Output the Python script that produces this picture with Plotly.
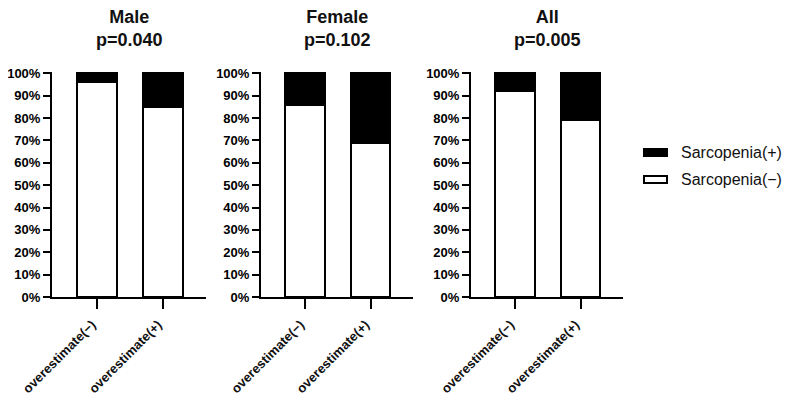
import plotly.graph_objects as go

panels = ["Male", "Female", "All"]
p_labels = ["p=0.040", "p=0.102", "p=0.005"]
categories = ["overestimate(−)", "overestimate(+)"]
y_ticks = list(range(0, 101, 10))
y_tick_labels = [f"{v}%" for v in y_ticks]
legend_labels = ["Sarcopenia(+)", "Sarcopenia(−)"]

male_neg = [96, 85]
male_pos = [4, 15]
female_neg = [86, 69]
female_pos = [14, 31]
all_neg = [92, 79]
all_pos = [8, 21]

neg_series = [male_neg, female_neg, all_neg]
pos_series = [male_pos, female_pos, all_pos]

# page body has an 8px default margin: figure is placed at (8, 8)
OFF = 8
W, H = 791 - OFF, 414 - OFF


def px_x(p):
    return (p - OFF) / W


def px_y(p):
    return 1 - (p - OFF) / H


x_px = [(52, 206), (261, 413), (471, 623)]
y_dom = [px_y(297), px_y(72)]

fig = go.Figure()
tick_font = dict(family="Liberation Sans", size=13, color="black", weight="bold")

for i, name in enumerate(panels):
    xa = "x" if i == 0 else f"x{i+1}"
    ya = "y" if i == 0 else f"y{i+1}"
    fig.add_trace(go.Bar(
        x=categories, y=neg_series[i], name=legend_labels[1],
        marker=dict(color="white", line=dict(color="black", width=2)),
        width=0.61, xaxis=xa, yaxis=ya, showlegend=False,
    ))
    fig.add_trace(go.Bar(
        x=categories, y=pos_series[i], name=legend_labels[0],
        marker=dict(color="black", line=dict(color="black", width=2)),
        width=0.61, xaxis=xa, yaxis=ya, showlegend=False,
    ))
    dom = [px_x(x_px[i][0]), px_x(x_px[i][1])]
    xkey = "xaxis" if i == 0 else f"xaxis{i+1}"
    ykey = "yaxis" if i == 0 else f"yaxis{i+1}"
    fig.update_layout({
        xkey: dict(domain=dom, anchor=ya, range=[-0.68, 1.65], showline=True,
                   linewidth=2, linecolor="black", ticks="outside", ticklen=10,
                   tickwidth=2, tickcolor="black", tickangle=-45, automargin=False,
                   ticklabelshift=-5, ticklabelstandoff=3,
                   tickfont=dict(family="Liberation Sans", size=13, color="#111",
                                 weight="bold"),
                   showgrid=False, zeroline=False, fixedrange=True),
        ykey: dict(domain=y_dom, anchor=xa, range=[0, 100.6], tickmode="array",
                   tickvals=y_ticks, ticktext=y_tick_labels, showline=True,
                   linewidth=2, linecolor="black", automargin=False,
                   ticks="outside", ticklen=7, tickwidth=2, tickcolor="black",
                   tickfont=tick_font, showgrid=False, zeroline=False, fixedrange=True),
    })
    fig.add_annotation(
        x=(dom[0] + dom[1]) / 2, y=px_y(29), xref="paper", yref="paper",
        text=f"<b>{name}<br>{p_labels[i]}</b>", showarrow=False,
        xanchor="center", yanchor="middle",
        font=dict(family="Liberation Sans", size=18, color="#111"),
    )

# legend drawn as boxes + text
leg_rows = [(152.5, "black"), (179.5, "white")]
for (yc, fill), label in zip(leg_rows, legend_labels):
    fig.add_shape(type="rect", xref="paper", yref="paper",
                  x0=px_x(644), x1=px_x(667), y0=px_y(yc - 3.5), y1=px_y(yc + 3.5),
                  fillcolor=fill, line=dict(color="black", width=2))
    fig.add_annotation(x=px_x(679), y=px_y(yc), xref="paper", yref="paper",
                       text=label, showarrow=False, xanchor="left", yanchor="middle",
                       font=dict(family="Liberation Sans", size=16, color="#111"))

fig.update_layout(
    width=W, height=H, barmode="stack", bargap=0, template="none",
    margin=dict(l=0, r=0, t=0, b=0),
    paper_bgcolor="white", plot_bgcolor="white", showlegend=False,
)

fig.write_html("out.html")
